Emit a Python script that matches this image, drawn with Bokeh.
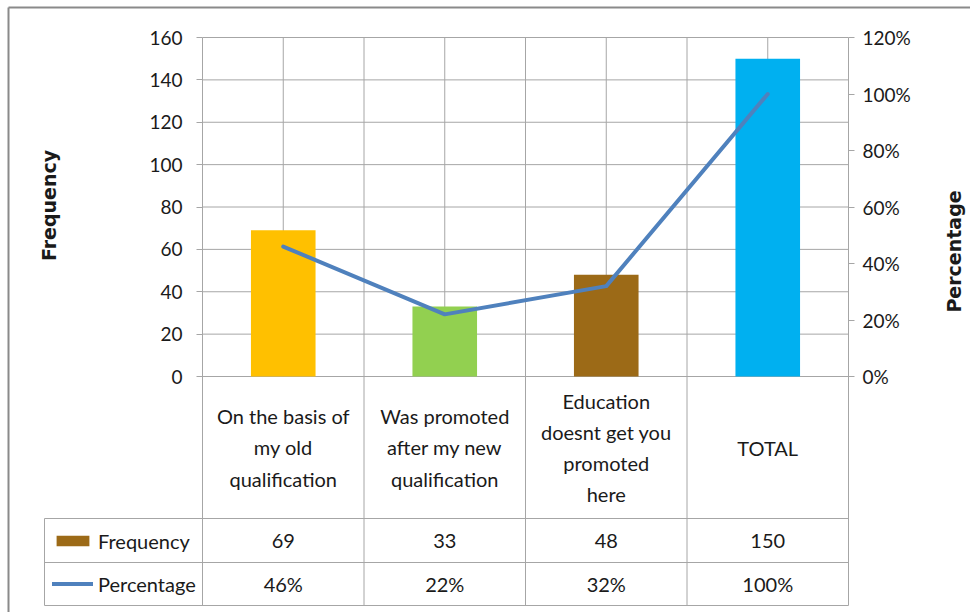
import math
import numpy as np
from bokeh.plotting import figure
from bokeh.models import (Range1d, LinearAxis, FixedTicker, NumeralTickFormatter,
                          Legend, LegendItem, ColumnDataSource)
from bokeh.core.properties import value
from bokeh.embed import file_html
from bokeh.resources import INLINE

# ---------------- data ----------------
categories = ["On the basis of\nmy old\nqualification",
              "Was promoted\nafter my new\nqualification",
              "Education\ndoesnt get you\npromoted\nhere",
              "TOTAL"]
frequency = [69, 33, 48, 150]
percentage = [46, 22, 32, 100]
bar_colors = ["#FFC000", "#92D050", "#9C6A17", "#00B0F0"]
freq_ticks = [0, 20, 40, 60, 80, 100, 120, 140, 160]
pct_ticks = [0, 20, 40, 60, 80, 100, 120]
series_names = ["Frequency", "Percentage"]

# ---------------- layout (canvas pixels) ----------------
W, H = 970, 612
PL, PR = 202, 848              # chart area left / right
TOP, ZERO = 37, 376            # top tick / zero line
ROW1, ROW2, BOT = 518, 562, 605  # table rows
TBL_L = 44                     # table first-column left edge
GRID = "#A6A6A6"
TXT = "#1a1a1a"
FONT = "Lato"

n = len(categories)
fmax = freq_ticks[-1]
pmax = pct_ticks[-1] / 100
ys = fmax / (ZERO - TOP)       # data per px (y)
xs_ = n / (PR - PL)            # data per px (x)


def fx(px):
    return (px - PL) * xs_


def fy(py):
    return (ZERO - py) * ys


p = figure(width=W, height=H, x_range=Range1d(fx(0), fx(W)), y_range=Range1d(fy(H), fy(0)),
           output_backend="svg", toolbar_location=None,
           x_axis_type=None, y_axis_type=None,
           min_border_left=0, min_border_right=0, min_border_top=0, min_border_bottom=0)
p.outline_line_color = None
p.background_fill_color = "white"
p.border_fill_color = "white"

p.extra_y_ranges = {"pct": Range1d(fy(H) / fmax * pmax, fy(0) / fmax * pmax)}

# axes
yl = LinearAxis(ticker=FixedTicker(ticks=freq_ticks), fixed_location=0,
                bounds=(fy(BOT), fmax))
yr = LinearAxis(y_range_name="pct", ticker=FixedTicker(ticks=[t / 100 for t in pct_ticks]),
                formatter=NumeralTickFormatter(format="0%"), fixed_location=n,
                bounds=(fy(BOT) / fmax * pmax, pmax))
for ax in (yl, yr):
    ax.axis_line_color = GRID
    ax.major_tick_line_color = GRID
    ax.major_tick_out = 6
    ax.major_tick_in = 0
    ax.minor_tick_line_color = None
    ax.major_label_text_font = FONT
    ax.major_label_text_font_size = "19px"
    ax.major_label_text_color = TXT
yl.major_label_standoff = 14
yr.major_label_standoff = 8
p.add_layout(yl, "left")
p.add_layout(yr, "right")

# axis titles
p.text(x=[fx(48)], y=[fy(205)], text=[series_names[0]], angle=math.pi / 2,
       text_font=value("DejaVu Sans"), text_font_style="bold", text_font_size="19px",
       text_align="center", text_baseline="middle", text_color=TXT)
p.text(x=[fx(953)], y=[fy(251)], text=[series_names[1]], angle=math.pi / 2,
       text_font=value("DejaVu Sans"), text_font_style="bold", text_font_size="19px",
       text_align="center", text_baseline="middle", text_color=TXT)

# horizontal grid lines
p.segment(x0=[0] * len(freq_ticks), y0=freq_ticks, x1=[n] * len(freq_ticks), y1=freq_ticks,
          line_color=GRID, line_width=1)
xs = np.arange(n) + 0.5
# vertical grid lines: category centres (chart area) and boundaries (chart + table)
p.segment(x0=xs, y0=[0] * n, x1=xs, y1=[fmax] * n, line_color=GRID, line_width=1)
bnd = np.arange(1, n)
p.segment(x0=bnd, y0=[fy(BOT)] * len(bnd), x1=bnd, y1=[fmax] * len(bnd),
          line_color=GRID, line_width=1)
# table rows and first column
rows = [ROW1, ROW2, BOT]
p.segment(x0=[fx(TBL_L)] * 3, y0=[fy(r) for r in rows], x1=[n] * 3, y1=[fy(r) for r in rows],
          line_color=GRID, line_width=1)
p.segment(x0=[fx(TBL_L)], y0=[fy(ROW1)], x1=[fx(TBL_L)], y1=[fy(BOT)],
          line_color=GRID, line_width=1)

# outer frame of the picture
p.segment(x0=[fx(8), fx(8)], y0=[fy(7), fy(7)], x1=[fx(W), fx(8)], y1=[fy(7), fy(H)],
          line_color="#8a8a8a", line_width=2)

# bars and line
src = ColumnDataSource(dict(x=xs, top=frequency, color=bar_colors,
                            pct=[v / 100 for v in percentage]))
bars = p.vbar(x="x", top="top", bottom=0, width=0.4, fill_color="color",
              line_color=None, source=src)
line = p.line(x="x", y="pct", y_range_name="pct", source=src, line_color="#4F81BD",
              line_width=4, line_join="round", line_cap="round")

# table text
p.text(x=xs, y=[fy((ZERO + ROW1) / 2)] * n, text=categories, text_font=value(FONT),
       text_font_size="20px", text_align="center", text_baseline="middle",
       text_line_height=1.3, text_color=TXT)
p.text(x=xs, y=[fy((ROW1 + ROW2) / 2)] * n, text=[str(v) for v in frequency],
       text_font=value(FONT), text_font_size="20px", text_align="center",
       text_baseline="middle", text_color=TXT)
p.text(x=xs, y=[fy((ROW2 + BOT) / 2)] * n, text=[f"{v}%" for v in percentage],
       text_font=value(FONT), text_font_size="20px", text_align="center",
       text_baseline="middle", text_color=TXT)

# legend keys in the table's first column
lg = Legend(items=[LegendItem(label=series_names[0], renderers=[bars], index=2),
                   LegendItem(label=series_names[1], renderers=[line])],
            location=(52, H - BOT), padding=0, spacing=0, margin=0,
            glyph_width=41, glyph_height=13, label_standoff=5, label_height=43,
            label_text_font=FONT, label_text_font_size="20px", label_text_color=TXT,
            border_line_color=None, background_fill_alpha=0)
p.add_layout(lg)

open("out.html", "w").write(file_html(p, INLINE))
